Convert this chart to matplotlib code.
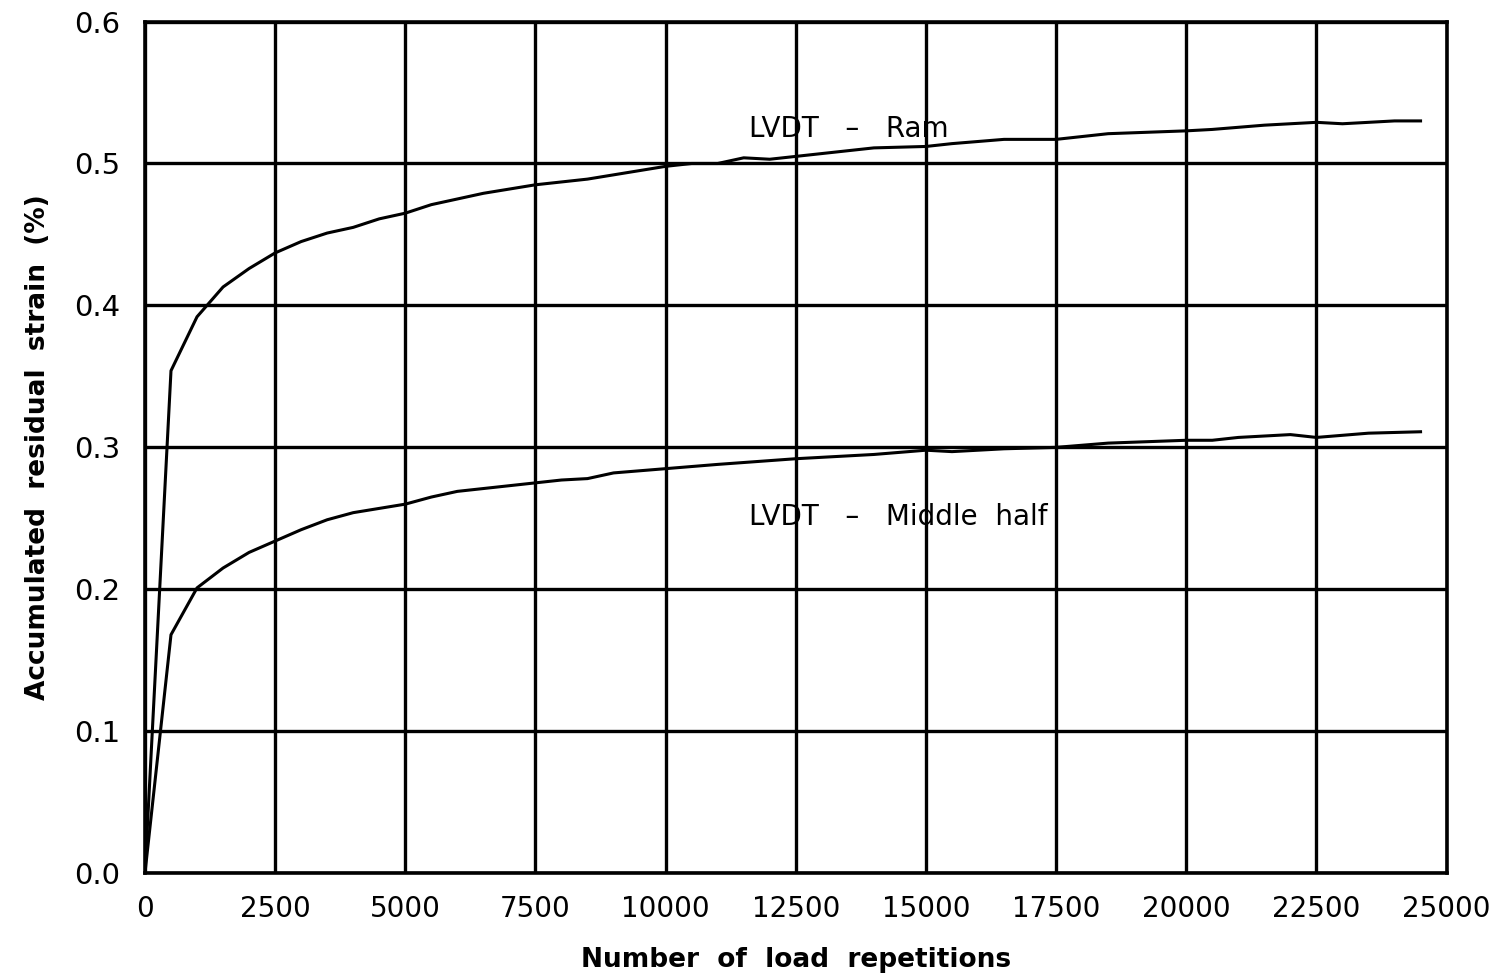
import matplotlib
matplotlib.use("Agg")
import matplotlib.pyplot as plt

# load repetitions and accumulated residual strain (%)
ram_n = [0, 500, 1000, 1500, 2000, 2500, 3000, 3500, 4000, 4500, 5000, 5500,
         6000, 6500, 7000, 7500, 8000, 8500, 9000, 9500, 10000, 10500, 11000,
         11500, 12000, 12500, 13000, 14000, 15000, 15500, 16500, 17500, 18500,
         20000, 20500, 21500, 22500, 23000, 24000, 24500]
ram_strain = [0.0, 0.354, 0.392, 0.413, 0.426, 0.437, 0.445, 0.451, 0.455,
              0.461, 0.465, 0.471, 0.475, 0.479, 0.482, 0.485, 0.487, 0.489,
              0.492, 0.495, 0.498, 0.500, 0.500, 0.504, 0.503, 0.505, 0.507,
              0.511, 0.512, 0.514, 0.517, 0.517, 0.521, 0.523, 0.524, 0.527,
              0.529, 0.528, 0.530, 0.530]

mid_n = [0, 500, 1000, 1500, 2000, 2500, 3000, 3500, 4000, 4500, 5000, 5500,
         6000, 6500, 7000, 7500, 8000, 8500, 9000, 10000, 11000, 12500, 14000,
         15000, 15500, 16500, 17500, 18500, 20000, 20500, 21000, 22000, 22500,
         23500, 24500]
mid_strain = [0.0, 0.168, 0.201, 0.215, 0.226, 0.234, 0.242, 0.249, 0.254,
              0.257, 0.260, 0.265, 0.269, 0.271, 0.273, 0.275, 0.277, 0.278,
              0.282, 0.285, 0.288, 0.292, 0.295, 0.298, 0.297, 0.299, 0.300,
              0.303, 0.305, 0.305, 0.307, 0.309, 0.307, 0.310, 0.311]

x_ticks = [0, 2500, 5000, 7500, 10000, 12500, 15000, 17500, 20000, 22500, 25000]
y_ticks = [0.0, 0.1, 0.2, 0.3, 0.4, 0.5, 0.6]

plt.rcParams['font.family'] = ['DejaVu Sans']

fig = plt.figure(figsize=(15.1, 9.8), dpi=100)
ax = fig.add_axes([0.096, 0.109, 0.862, 0.869])

ax.plot(ram_n, ram_strain, color='black', lw=2.2)
ax.plot(mid_n, mid_strain, color='black', lw=2.2)

ax.text(11600, 0.524, 'LVDT   –   Ram', fontsize=20, va='center')
ax.text(11600, 0.251, 'LVDT   –   Middle  half', fontsize=20, va='center')

ax.set_xlim(0, 25000)
ax.set_ylim(0, 0.6)
ax.set_xticks(x_ticks)
ax.set_yticks(y_ticks)
ax.set_yticklabels(['%.1f' % v for v in y_ticks])
ax.tick_params(axis='x', length=0, labelsize=20, pad=16)
ax.tick_params(axis='y', length=0, labelsize=21, pad=18)
ax.grid(True, color='black', lw=2.4)
for s in ax.spines.values():
    s.set_linewidth(2.6)

ax.set_xlabel('Number  of  load  repetitions', fontsize=19, fontweight='bold',
              labelpad=17)
ax.set_ylabel('Accumulated  residual  strain  (%)', fontsize=19,
              fontweight='bold', labelpad=16)

fig.savefig('out.png', dpi=100)
